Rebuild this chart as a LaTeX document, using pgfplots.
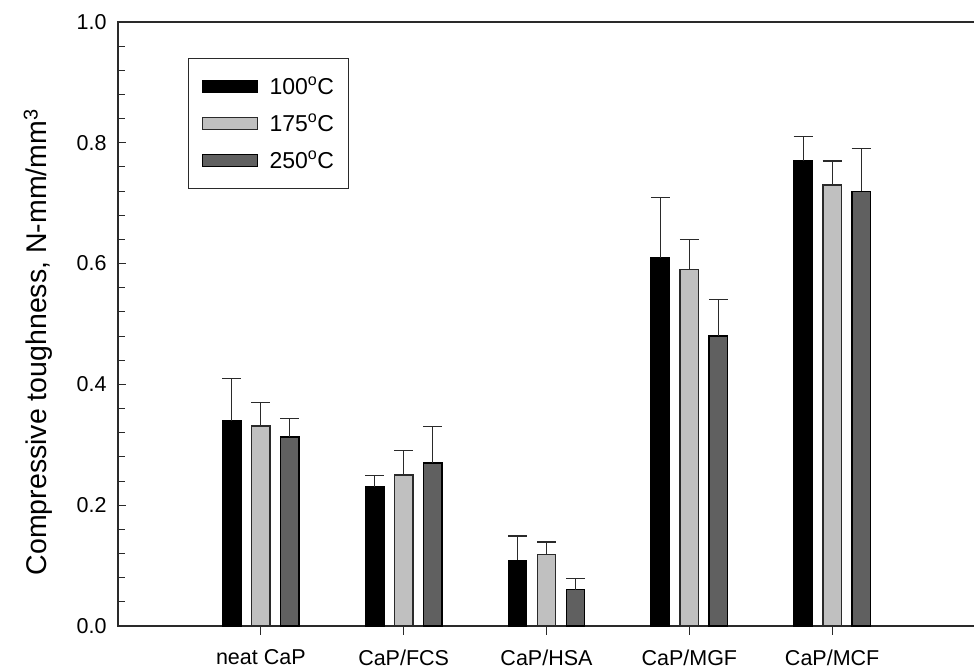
\documentclass[border=0pt]{standalone}
\usepackage{pgfplots}
\pgfplotsset{compat=1.18}
\usepackage{fontspec}
\setmainfont{Liberation Sans}
\definecolor{lg}{HTML}{C0C0C0}
\definecolor{dg}{HTML}{606060}
\definecolor{ec}{HTML}{2A2A2A}
\pgfplotstableread{
x   a      ae    b      be    c      ce
1   0.340  0.070 0.331  0.039 0.313  0.031
2   0.230  0.019 0.250  0.040 0.270  0.060
3   0.109  0.040 0.119  0.020 0.060  0.019
4   0.610  0.100 0.590  0.050 0.480  0.060
5   0.770  0.040 0.730  0.040 0.720  0.070
}\datatable
\newcommand{\tf}{\fontsize{21.5bp}{25bp}\selectfont}
\newcommand{\gf}{\fontsize{23bp}{27bp}\selectfont}
\newcommand{\lf}{\fontsize{28.5bp}{33bp}\selectfont}
\begin{document}
\begin{tikzpicture}[font=\tf]
\begin{axis}[
  scale only axis, width=857bp, height=604bp,
  xmin=0, xmax=6, ymin=0, ymax=1,
  ybar=10.5bp, bar width=18.5bp,
  axis line style={line width=1.2bp, draw=ec},
  xtick={1,2,3,4,5},
  xticklabels={neat CaP, CaP/FCS, CaP/HSA, CaP/MGF, CaP/MCF},
  ytick={0,0.2,0.4,0.6,0.8,1.0},
  minor y tick num=4,
  xtick pos=left, ytick pos=left,
  tick align=inside,
  major tick length=8.5bp, minor tick length=7bp,
  tick style={line width=1bp, draw=ec},
  xtick style={yshift=-8.5bp},
  tick label style={font=\tf},
  yticklabel style={xshift=-8bp, /pgf/number format/.cd, fixed, fixed zerofill, precision=1, assume math mode=true},
  xticklabel style={yshift=-20bp},
  ylabel={Compressive toughness, N-mm/mm\textsuperscript{3}},
  ylabel style={font=\lf, at={(axis description cs:-0.0933,0.47)}, anchor=center},
  legend style={at={(axis description cs:0.0817,0.940)}, anchor=north west,
    draw=ec, line width=1bp, inner xsep=13bp, inner ysep=16bp, row sep=14bp,
    nodes={inner sep=2bp}, font=\gf,
    /tikz/every odd column/.append style={column sep=10bp}},
  legend cell align=left,
  legend image code/.code={\draw[#1, line width=1bp] (0bp,-6bp) rectangle (55bp,6bp);},
  error bars/y dir=plus, error bars/y explicit,
  error bars/error bar style={line width=1.3bp, draw=ec},
  error bars/error mark options={rotate=90, mark size=9.5bp, line width=1.3bp, draw=ec},
]
\addplot[fill=black, draw=black, line width=1.2bp] table[x=x, y=a, y error=ae] {\datatable};
\addlegendentry{100\textsuperscript{o}C}
\addplot[fill=lg, draw=ec, line width=1.2bp] table[x=x, y=b, y error=be] {\datatable};
\addlegendentry{175\textsuperscript{o}C}
\addplot[fill=dg, draw=black, line width=1.2bp] table[x=x, y=c, y error=ce] {\datatable};
\addlegendentry{250\textsuperscript{o}C}
\end{axis}
\pgfresetboundingbox
\useasboundingbox (-118bp,-45bp) rectangle (856bp,626bp);
\end{tikzpicture}
\end{document}
